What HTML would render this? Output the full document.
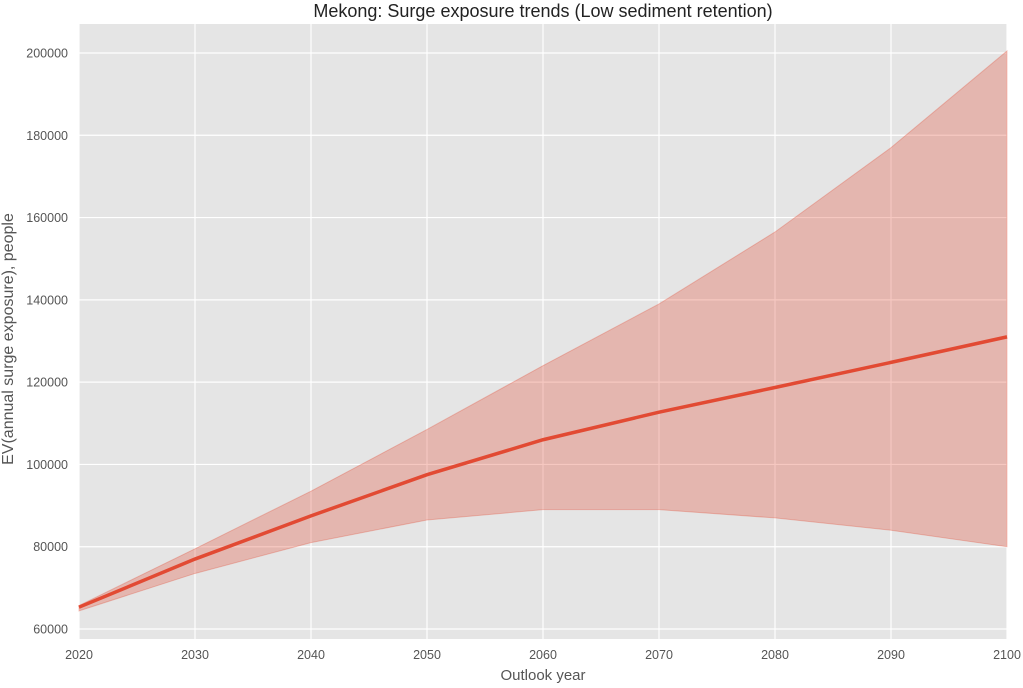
<!DOCTYPE html>
<html><head><meta charset="utf-8"><style>
body{margin:0;background:#fff;}
svg text{font-family:"Liberation Sans",sans-serif;}
</style></head><body>
<svg id="chart" width="1023" height="683" xmlns="http://www.w3.org/2000/svg">
<rect x="79" y="24" width="928" height="615" fill="#e5e5e5"/>
<g id="grid"></g>
<g id="marks"></g>
<g id="ticks"></g>
<text x="543" y="17" text-anchor="middle" font-size="18" fill="#222">Mekong: Surge exposure trends (Low sediment retention)</text>
<text x="543" y="680" text-anchor="middle" font-size="15" fill="#555">Outlook year</text>
<text transform="translate(13,339) rotate(-90)" text-anchor="middle" font-size="16" fill="#555">EV(annual surge exposure), people</text>
</svg>
<script>
const years=[2020,2030,2040,2050,2060,2070,2080,2090,2100];
const meanVals=[65300,77000,87500,97500,106000,112700,118700,124800,131000];
const upperVals=[65700,79500,93500,108500,124000,139000,156500,177000,200500];
const lowerVals=[64400,73500,81000,86500,89000,89000,87000,84000,80000];
const yTicks=[60000,80000,100000,120000,140000,160000,180000,200000];
const xTicks=[2020,2030,2040,2050,2060,2070,2080,2090,2100];
const NS="http://www.w3.org/2000/svg";
const X=v=>79+(v-2020)/80*928;
const Y=v=>629-(v-60000)/140000*576;
function mk(tag,attrs,parent){const e=document.createElementNS(NS,tag);for(const k in attrs)e.setAttribute(k,attrs[k]);parent.appendChild(e);return e;}
const grid=document.getElementById('grid'),marks=document.getElementById('marks'),ticks=document.getElementById('ticks');
yTicks.forEach(t=>{
 const l=mk('line',{x1:79,x2:1007,y1:Y(t),y2:Y(t),stroke:'#fff','stroke-width':1.2},grid);
 
 
 const tx=mk('text',{x:68,y:Y(t)+4.5,'text-anchor':'end','font-size':12.5,fill:'#555'},ticks);
 tx.textContent=t;
 
 
});
xTicks.forEach(t=>{
 const l=mk('line',{x1:X(t),x2:X(t),y1:24,y2:639,stroke:'#fff','stroke-width':1.2},grid);
 
 
 const tx=mk('text',{x:X(t),y:659,'text-anchor':'middle','font-size':12.5,fill:'#555'},ticks);
 tx.textContent=t;
 
 
});
let d=years.map((y,i)=>(i?'L':'M')+X(y)+','+Y(upperVals[i])).join(' ');
for(let i=years.length-1;i>=0;i--)d+=' L'+X(years[i])+','+Y(lowerVals[i]);
const band=mk('path',{d:d+' Z',fill:'#e24a33','fill-opacity':0.3,stroke:'#e24a33','stroke-opacity':0.3},marks);


const line=mk('polyline',{points:years.map((y,i)=>X(y)+','+Y(meanVals[i])).join(' '),fill:'none',stroke:'#e24a33','stroke-width':3.5},marks);


</script>
</body></html>
